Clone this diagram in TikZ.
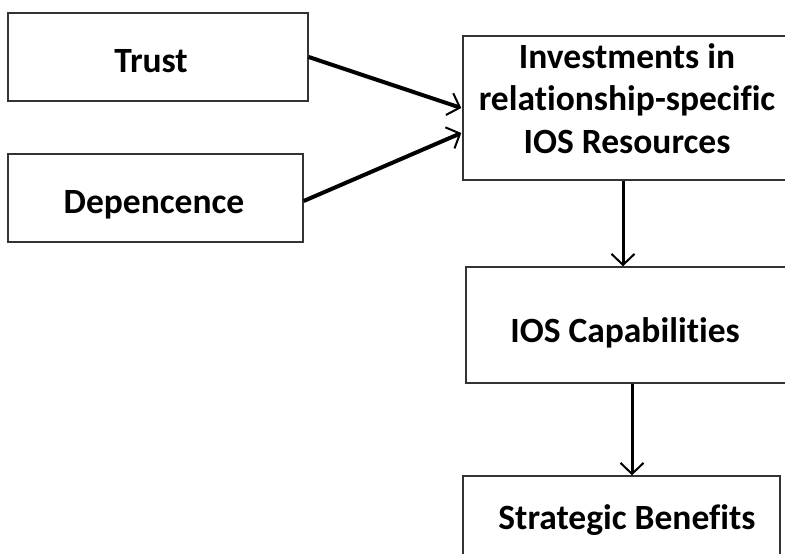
\documentclass[tikz,border=0pt]{standalone}
\usepackage{fontspec}
\setmainfont[Ligatures=NoCommon]{Carlito}
\usetikzlibrary{arrows.meta}
\begin{document}
\begin{tikzpicture}[x=1pt,y=-1pt,
  box/.style={draw=black!80,line width=1.4pt,inner sep=0pt},
  txt/.style={inner sep=0pt,anchor=base,font=\fontsize{35.5}{42.5}\selectfont\bfseries,align=center},
  conn/.style={-{Straight Barb[length=11pt,width=23pt,line width=2pt]},line width=3pt,black}]
\useasboundingbox (0,0) rectangle (785,554);
\clip (0,0) rectangle (785,554);
\node[box,minimum width=300pt,minimum height=88pt] (trust) at (158,57) {};
\node[box,minimum width=295pt,minimum height=88pt] (dep) at (155.5,198) {};
\node[box,minimum width=340pt,minimum height=144pt] (inv) at (633,108) {};
\node[box,minimum width=340pt,minimum height=116pt] (cap) at (636,325) {};
\node[box,minimum width=317pt,minimum height=86pt] (strat) at (621.5,519) {};
\node[txt] (trustT) at (151,72) {Trust};
\node[txt] (depT) at (154,213) {Depencence};
\node[txt] (invT) at (627,153) {Investments in\\relationship-specific\\IOS Resources};
\node[txt] (capT) at (625,342) {IOS Capabilities};
\node[txt] (stratT) at (627,529) {Strategic Benefits};
\draw[conn,line width=4pt] (trust.east) -- ([xshift=-1pt]inv.west);
\draw[conn,line width=4pt] ([yshift=-3pt]dep.east) -- ([xshift=-1pt,yshift=-25pt]inv.west);
\draw[conn] ([xshift=-10pt]inv.south) -- ([xshift=-10pt]inv.south |- cap.north);
\draw[conn] ([xshift=-4pt]cap.south) -- ([xshift=-4pt]cap.south |- strat.north);
\end{tikzpicture}
\end{document}
